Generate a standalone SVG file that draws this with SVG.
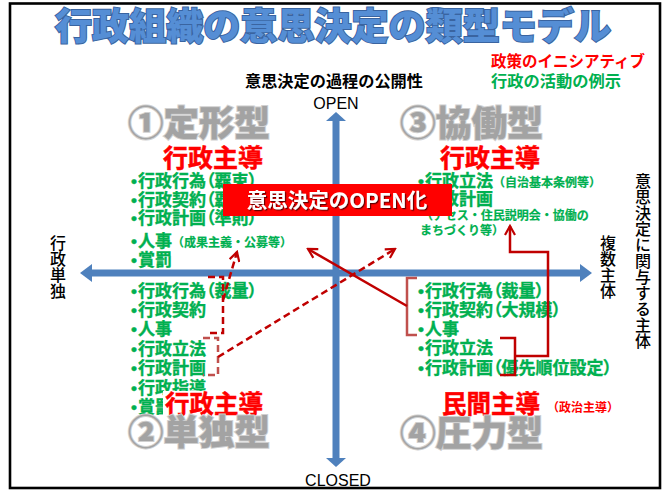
<svg xmlns="http://www.w3.org/2000/svg" width="667" height="490" viewBox="0 0 667 490">
<style>
text{font-family:"Noto Sans CJK JP","Noto Sans CJK SC",sans-serif;}
.title{font-size:37px;font-weight:900;fill:#558ed5;stroke:#3a64a0;stroke-width:2;paint-order:stroke;}
.g{font-size:17px;font-weight:bold;fill:#00b050;stroke:#00b050;stroke-width:0.35;font-feature-settings:"palt";}
.s{font-size:12px;font-feature-settings:normal;stroke-width:0.2;}
.b{font-family:"Liberation Sans",sans-serif;}
.lead{font-size:25px;font-weight:bold;fill:#ff0000;stroke:#ff0000;stroke-width:0.5;}
.type{font-size:35px;font-weight:900;fill:#a3a3a3;stroke:#d0d0d0;stroke-width:2;paint-order:stroke;}
.lbl{font-size:16px;font-weight:500;fill:#000;}
.vert{writing-mode:vertical-rl;}
.latin{font-family:"Liberation Sans",Arial,sans-serif;font-size:16px;fill:#000;}
.axis{stroke:#4f81bd;stroke-width:7;fill:none;}
.ahead{fill:#4f81bd;}
.dk{stroke:#c00000;stroke-width:2.5;fill:none;}
.lt{stroke:#c0504d;stroke-width:2.5;fill:none;}
.dash{stroke-dasharray:7,4;}
</style>
<defs>
<marker id="chev" viewBox="0 0 12 12" refX="10" refY="6" markerWidth="12" markerHeight="12" markerUnits="userSpaceOnUse" orient="auto">
<path d="M1,1 L10,6 L1,11" fill="none" stroke="#c00000" stroke-width="2.2" stroke-dasharray="none"/>
</marker>
<filter id="sh" x="-5%" y="-20%" width="110%" height="140%">
<feDropShadow dx="1.2" dy="1.2" stdDeviation="0.6" flood-color="#400000" flood-opacity="0.8"/>
</filter>
</defs>
<rect x="0" y="0" width="667" height="490" fill="#fff"/>
<rect x="10" y="3.5" width="650" height="484.5" fill="none" stroke="#000" stroke-width="2.6"/>

<g id="title">
<text class="title" x="55" y="40" textLength="556" lengthAdjust="spacingAndGlyphs">行政組織の意思決定の類型モデル</text>
</g>
<g id="legend">
<text x="491" y="67" font-size="16" font-weight="bold" fill="#ff0000" textLength="154" lengthAdjust="spacingAndGlyphs">政策のイニシアティブ</text>
<text x="491" y="86.5" font-size="16" font-weight="bold" fill="#00b050" textLength="130" lengthAdjust="spacingAndGlyphs">行政の活動の例示</text>
</g>
<g id="axis-title">
<text x="245" y="87" font-size="16" font-weight="bold" fill="#000" textLength="178" lengthAdjust="spacingAndGlyphs">意思決定の過程の公開性</text>
</g>

<g id="axes">
<line class="axis" x1="90" y1="273" x2="582" y2="273"/>
<polygon class="ahead" points="80,273 92,264 92,282"/>
<polygon class="ahead" points="592,273 580,264 580,282"/>
<line class="axis" x1="336" y1="119" x2="336" y2="460"/>
<polygon class="ahead" points="336,112 326,121 346,121"/>
<polygon class="ahead" points="336,467 326,458 346,458"/>
</g>
<g id="axis-labels">
<text class="latin" x="336" y="108.5" text-anchor="middle">OPEN</text>
<text class="latin" x="338" y="486" text-anchor="middle">CLOSED</text>
<text class="lbl vert" x="58" y="235">行政単独</text>
<text class="lbl vert" x="608" y="235">複数主体</text>
<text class="lbl vert" x="643" y="173" font-size="16.5">意思決定に関与する主体</text>
</g>

<g id="q1">
<text class="type" x="128" y="135.5" textLength="142" lengthAdjust="spacingAndGlyphs">①定形型</text>
<text class="lead" x="163" y="167" textLength="100" lengthAdjust="spacingAndGlyphs">行政主導</text>
<text class="g" y="186.5"><tspan class="b" x="131">•</tspan><tspan x="138">行政行為（覊束）</tspan></text>
<text class="g" y="205.5"><tspan class="b" x="131">•</tspan><tspan x="138">行政契約（覊束）</tspan></text>
<text class="g" y="224"><tspan class="b" x="131">•</tspan><tspan x="138">行政計画（準則）</tspan></text>
<text class="g" y="246.5"><tspan class="b" x="131">•</tspan><tspan x="138">人事</tspan><tspan class="s" x="172" font-size="13.3">（成果主義・公募等）</tspan></text>
<text class="g" y="265.5"><tspan class="b" x="131">•</tspan><tspan x="138">賞罰</tspan></text>
</g>

<g id="q3">
<text class="type" x="400" y="136" textLength="143" lengthAdjust="spacingAndGlyphs">③協働型</text>
<text class="lead" x="440" y="167" textLength="100" lengthAdjust="spacingAndGlyphs">行政主導</text>
<text class="g" y="186.5"><tspan class="b" x="418">•</tspan><tspan x="425">行政立法</tspan><tspan class="s" x="493">（自治基本条例等）</tspan></text>
<text class="g" y="204.5"><tspan class="b" x="418">•</tspan><tspan x="425">行政計画</tspan></text>
<text class="g s" x="421" y="219.5" font-size="11.6">（アセス・住民説明会・協働の</text>
<text class="g s" x="420" y="234.5" font-size="11.6">まちづくり等）</text>
</g>

<g id="q2">
<text class="g" y="296.5"><tspan class="b" x="131">•</tspan><tspan x="138">行政行為（裁量）</tspan></text>
<text class="g" y="316"><tspan class="b" x="131">•</tspan><tspan x="138">行政契約</tspan></text>
<text class="g" y="335"><tspan class="b" x="131">•</tspan><tspan x="138">人事</tspan></text>
<text class="g" y="354.5"><tspan class="b" x="131">•</tspan><tspan x="138">行政立法</tspan></text>
<text class="g" y="374"><tspan class="b" x="131">•</tspan><tspan x="138">行政計画</tspan></text>
<text class="g" y="393.5"><tspan class="b" x="131">•</tspan><tspan x="138">行政指導</tspan></text>
<text class="g" y="413"><tspan class="b" x="131">•</tspan><tspan x="138">賞罰</tspan></text>
<rect x="163" y="391" width="102" height="26" fill="#fff"/>
<text class="lead" x="165" y="413" textLength="98" lengthAdjust="spacingAndGlyphs">行政主導</text>
<text class="type" x="128" y="445" textLength="142" lengthAdjust="spacingAndGlyphs">②単独型</text>
</g>

<g id="q4">
<text class="g" y="296.5"><tspan class="b" x="418">•</tspan><tspan x="425">行政行為（裁量）</tspan></text>
<text class="g" y="315.5"><tspan class="b" x="418">•</tspan><tspan x="425">行政契約（大規模）</tspan></text>
<text class="g" y="334.5"><tspan class="b" x="418">•</tspan><tspan x="425">人事</tspan></text>
<text class="g" y="354"><tspan class="b" x="418">•</tspan><tspan x="425">行政立法</tspan></text>
<text class="g" y="373.5"><tspan class="b" x="418">•</tspan><tspan x="425">行政計画（優先順位設定）</tspan></text>
<text class="lead" x="442" y="413" textLength="98" lengthAdjust="spacingAndGlyphs">民間主導</text>
<text x="547" y="411.5" font-size="12" font-weight="bold" fill="#ff0000">（政治主導）</text>
<text class="type" x="400" y="446" textLength="143" lengthAdjust="spacingAndGlyphs">④圧力型</text>
</g>

<g id="connectors">
<path class="lt" d="M417,278 L407,278 L407,335 L417,335"/>
<path class="dk" d="M500,338 L515,338 L515,375 L500,375"/>
<path class="dk" d="M515,356 L548,356 L548,252 L510,252 L510,226" marker-end="url(#chev)"/>
<path class="dk" d="M407,306 L308,249" marker-end="url(#chev)"/>
<path class="dk dash" d="M208,277 L223,277 L223,333 L208,333"/>
<path class="dk dash" d="M223,300 L237,252" marker-end="url(#chev)"/>
<path class="lt dash" d="M203,338 L218,338 L218,375 L203,375"/>
<path class="dk dash" d="M218,357 L395,249" marker-end="url(#chev)"/>
</g>

<g id="open-box">
<rect x="223" y="184" width="229" height="32" fill="#ff0000"/>
<text x="337" y="208" font-size="20.5" font-weight="bold" fill="#fff" text-anchor="middle" filter="url(#sh)">意思決定のOPEN化</text>
</g>
</svg>
